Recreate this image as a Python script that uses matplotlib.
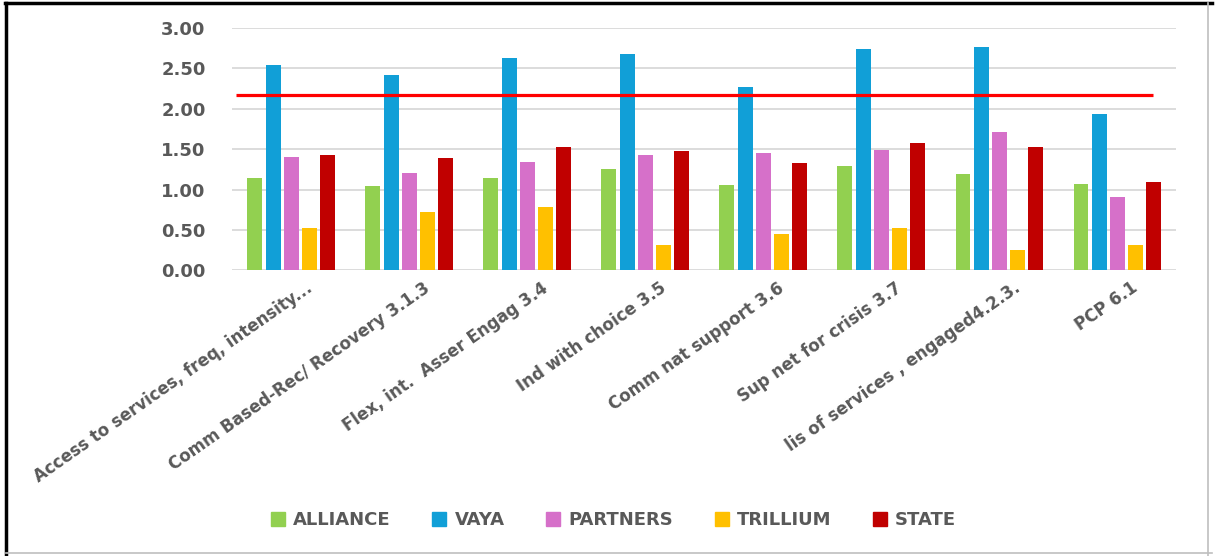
import numpy as np
import matplotlib.pyplot as plt
from matplotlib.lines import Line2D
from matplotlib.patches import Patch
import matplotlib.transforms as mtransforms

categories = ["Access to services, freq, intensity...",
              "Comm Based-Rec/ Recovery 3.1.3",
              "Flex, int.  Asser Engag 3.4",
              "Ind with choice 3.5",
              "Comm nat support 3.6",
              "Sup net for crisis 3.7",
              "lis of services , engaged4.2.3.",
              "PCP 6.1"]

series = ["ALLIANCE", "VAYA", "PARTNERS", "TRILLIUM", "STATE"]
alliance = [1.14, 1.04, 1.14, 1.25, 1.05, 1.29, 1.19, 1.07]
vaya = [2.54, 2.41, 2.62, 2.67, 2.27, 2.73, 2.76, 1.93]
partners = [1.40, 1.20, 1.34, 1.42, 1.45, 1.49, 1.71, 0.91]
trillium = [0.52, 0.72, 0.79, 0.32, 0.45, 0.52, 0.25, 0.32]
state = [1.43, 1.39, 1.53, 1.48, 1.33, 1.57, 1.53, 1.09]
target = 2.17

colors = ["#92D050", "#119FD7", "#D670C9", "#FFC000", "#C00000"]
text_color = "#595959"

fig = plt.figure(figsize=(12.15, 5.56), dpi=100)
ax = fig.add_axes([0.191, 0.5135, 0.777, 0.437])

x = np.arange(len(categories))
width = 0.127
step = 0.153
for i, (name, vals) in enumerate(zip(series, [alliance, vaya, partners, trillium, state])):
    ax.bar(x + (i - 2) * step, vals, width, color=colors[i], label=name, zorder=3)

# target line
ax.hlines(target, -0.47, 7.3, color="#FF0000", lw=2.3, zorder=4)

ax.set_xlim(-0.5, len(categories) - 0.5)
ax.set_ylim(0, 3)
ax.set_yticks(np.arange(0, 3.01, 0.5))
ax.set_yticklabels([f"{v:.2f}" for v in np.arange(0, 3.01, 0.5)],
                   fontsize=13, fontweight="bold", color=text_color)
ax.grid(axis="y", color="#D9D9D9", lw=1.3, zorder=0)
ax.set_axisbelow(True)
for s in ax.spines.values():
    s.set_visible(False)
ax.tick_params(axis="y", length=0, pad=19)
ax.tick_params(axis="x", length=0, pad=6)

ax.set_xticks(x)
ax.set_xticklabels(categories, rotation=35, ha="right", va="top",
                   rotation_mode="anchor", fontsize=12, fontweight="bold",
                   color=text_color)
shift = mtransforms.ScaledTranslation(14 / 100, 0, fig.dpi_scale_trans)
for lbl in ax.get_xticklabels():
    lbl.set_transform(lbl.get_transform() + shift)

handles = [Patch(color=c) for c in colors]
fig.legend(handles, series, loc="center", bbox_to_anchor=(0.505, 0.064), ncol=5,
           frameon=False, handlelength=0.78, handleheight=0.78, handletextpad=0.45,
           columnspacing=2.3, prop={"size": 13, "weight": "bold"},
           labelcolor=text_color)

# outer frame
fig.add_artist(Line2D([5, 1212], [553, 553], transform=None, color="black", lw=2.5))
fig.add_artist(Line2D([6, 6], [0, 553], transform=None, color="black", lw=2.5))
fig.add_artist(Line2D([1208, 1208], [0, 553], transform=None, color="#BFBFBF", lw=1.2))
fig.add_artist(Line2D([6, 1212], [3, 3], transform=None, color="#BFBFBF", lw=1.2))

fig.savefig("out.png", dpi=100)
